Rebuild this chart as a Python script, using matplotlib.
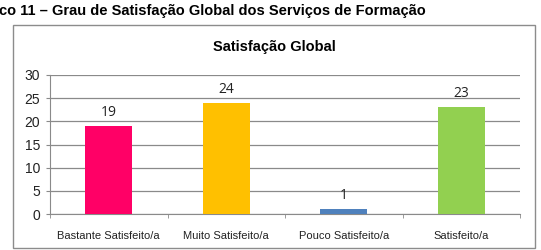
import matplotlib
matplotlib.use("Agg")
import matplotlib.pyplot as plt
from matplotlib.patches import Rectangle

categories = ["Bastante Satisfeito/a", "Muito Satisfeito/a", "Pouco Satisfeito/a", "Satisfeito/a"]
values = [19, 24, 1, 23]
colors = ["#FF0066", "#FFC000", "#4F81BD", "#92D050"]

W, H = 541, 250

fig = plt.figure(figsize=(W / 100, H / 100), dpi=100)
fig.patch.set_facecolor("white")

# outer chart frame
fig.patches.append(Rectangle((13 / W, 1 - 248 / H), 522 / W, 223 / H,
                             transform=fig.transFigure, fill=False,
                             edgecolor="#8c8c8c", linewidth=1.0))

ax = fig.add_axes([50 / W, 1 - 214 / H, 470 / W, 139 / H])
x = list(range(len(categories)))
ax.bar(x, values, width=0.4, color=colors, zorder=3)
for xi, v in zip(x, values):
    ax.text(xi, v + 1.3, str(v), ha="center", va="bottom", fontsize=10,
            family="Open Sans", color="#222222")

ax.set_xlim(-0.5, len(categories) - 0.5)
ax.set_ylim(0, 30)
ax.set_yticks(range(0, 31, 5))
ax.yaxis.grid(True, color="#8a8a8a", linewidth=0.9, zorder=0)
ax.set_xticks(x)
ax.set_xticklabels(categories, fontsize=8, family="Liberation Sans", color="#222222")
ax.tick_params(axis="x", length=0, pad=12)
ax.set_xticks([i - 0.5 for i in range(len(categories) + 1)], minor=True)
ax.tick_params(axis="x", which="minor", length=3, color="#8a8a8a")
ax.tick_params(axis="y", length=3, color="#8a8a8a", labelsize=10, pad=4)
for lab in ax.get_yticklabels():
    lab.set_family("Liberation Sans")
    lab.set_color("#222222")
for s in ["top", "right"]:
    ax.spines[s].set_visible(False)
ax.spines["left"].set_color("#8a8a8a")
ax.spines["bottom"].set_color("#8a8a8a")

fig.text(274 / W, 1 - 47 / H, "Satisfação Global", ha="center", va="center",
         fontsize=10.5, fontweight="bold", family="Liberation Sans")
fig.text(-1 / W, 1 - 11 / H, "co 11 – Grau de Satisfação Global dos Serviços de Formação",
         ha="left", va="center", fontsize=10.5, fontweight="bold", family="Liberation Sans")

fig.savefig("out.png", dpi=100)
